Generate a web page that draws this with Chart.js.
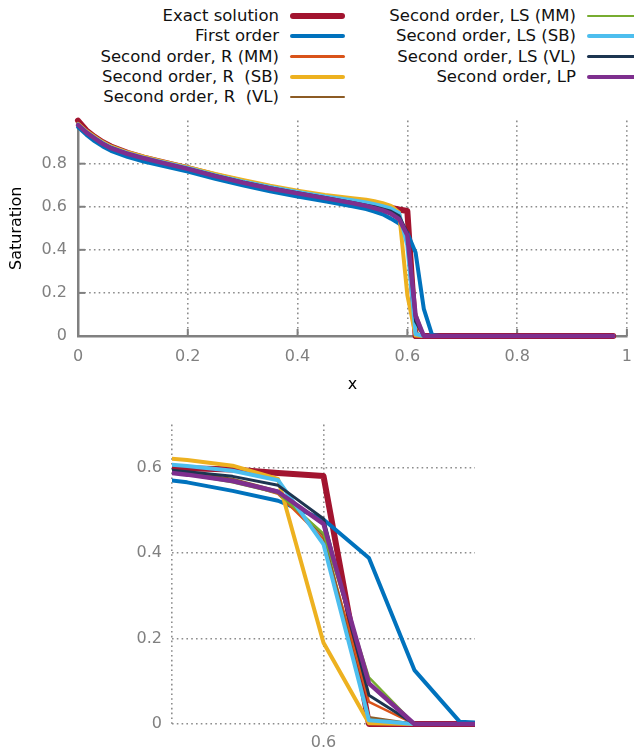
<!DOCTYPE html>
<html>
<head>
<meta charset="utf-8">
<script src="https://cdn.jsdelivr.net/npm/chart.js@4.4.0/dist/chart.umd.min.js"></script>
<style>
  body { margin: 0; width: 634px; height: 753px; overflow: hidden; background: #fff; position: relative; font-family: "DejaVu Sans", sans-serif; }
  #mainWrap { position: absolute; left: 0; top: 100px; }
  #zoomWrap { position: absolute; left: 0; top: 405px; }
  .legText { position: absolute; font-size: 16.5px; line-height: 20px; color: #111; white-space: pre; text-align: right; }
  .legLine { position: absolute; border-radius: 3px; }
</style>
</head>
<body>
<div id="legend"></div>
<div id="mainWrap"><canvas id="mainChart" width="643" height="300"></canvas></div>
<div id="zoomWrap"><canvas id="zoomChart" width="634" height="348"></canvas></div>
<script>
// grid points (coarser where the curves are smooth)
var xs = [0, 0.015, 0.03, 0.045, 0.06, 0.09, 0.12, 0.15, 0.2, 0.25, 0.3, 0.35, 0.4, 0.45, 0.5, 0.525, 0.54, 0.555, 0.57, 0.585, 0.6, 0.615, 0.63, 0.645, 0.66, 0.7, 0.8, 0.9, 0.975];

var exactSol = [1.0, 0.955, 0.925, 0.9, 0.88, 0.85, 0.828, 0.809, 0.779, 0.746, 0.716, 0.689, 0.666, 0.644, 0.622, 0.612, 0.605, 0.598, 0.595, 0.587, 0.58, 0, 0, 0, 0, 0, 0, 0, 0];
var firstOrder = [0.97, 0.935, 0.905, 0.88, 0.86, 0.832, 0.81, 0.792, 0.763, 0.73, 0.7, 0.672, 0.647, 0.625, 0.602, 0.589, 0.578, 0.565, 0.545, 0.522, 0.478, 0.388, 0.126, 0.005, 0, 0, 0, 0, 0];
var rMM = [0.98, 0.945, 0.918, 0.893, 0.873, 0.847, 0.826, 0.807, 0.777, 0.744, 0.714, 0.687, 0.664, 0.642, 0.619, 0.606, 0.597, 0.585, 0.57, 0.538, 0.433, 0.052, 0, 0, 0, 0, 0, 0, 0];
var rSB = [0.985, 0.952, 0.925, 0.9, 0.88, 0.853, 0.832, 0.813, 0.784, 0.752, 0.724, 0.698, 0.675, 0.655, 0.64, 0.633, 0.626, 0.617, 0.604, 0.573, 0.19, 0.002, 0, 0, 0, 0, 0, 0, 0];
var rVL = [0.981, 0.946, 0.919, 0.894, 0.874, 0.848, 0.827, 0.808, 0.778, 0.745, 0.715, 0.688, 0.665, 0.643, 0.62, 0.607, 0.599, 0.588, 0.573, 0.545, 0.441, 0.016, 0, 0, 0, 0, 0, 0, 0];
var lsMM = [0.979, 0.944, 0.917, 0.892, 0.872, 0.846, 0.825, 0.806, 0.776, 0.743, 0.713, 0.686, 0.663, 0.641, 0.618, 0.605, 0.596, 0.584, 0.565, 0.54, 0.445, 0.109, 0, 0, 0, 0, 0, 0, 0];
var lsSB = [0.982, 0.948, 0.921, 0.896, 0.876, 0.849, 0.828, 0.809, 0.78, 0.747, 0.718, 0.692, 0.669, 0.648, 0.63, 0.62, 0.612, 0.603, 0.592, 0.57, 0.42, 0.009, 0, 0, 0, 0, 0, 0, 0];
var lsVL = [0.981, 0.947, 0.92, 0.895, 0.875, 0.848, 0.827, 0.808, 0.778, 0.745, 0.715, 0.688, 0.665, 0.643, 0.62, 0.607, 0.6, 0.59, 0.579, 0.558, 0.48, 0.067, 0, 0, 0, 0, 0, 0, 0];
var lp = [0.98, 0.945, 0.918, 0.892, 0.872, 0.846, 0.825, 0.806, 0.776, 0.742, 0.712, 0.685, 0.662, 0.64, 0.617, 0.604, 0.594, 0.583, 0.568, 0.543, 0.468, 0.095, 0, 0, 0, 0, 0, 0, 0];

var seriesNames = ['Exact solution', 'First order', 'Second order, R (MM)', 'Second order, R  (SB)', 'Second order, R  (VL)',
                   'Second order, LS (MM)', 'Second order, LS (SB)', 'Second order, LS (VL)', 'Second order, LP'];
var seriesData = [exactSol, firstOrder, rMM, rSB, rVL, lsMM, lsSB, lsVL, lp];
var colors = ['#a2142f', '#0072bd', '#d95319', '#edb120', '#8c5b24', '#77ac30', '#4dbeee', '#1d3550', '#7e2f8e'];
var widths = [6, 4, 2.5, 4, 2.5, 2.5, 4, 3, 4.5];

var mainXTicks = [0, 0.2, 0.4, 0.6, 0.8, 1];
var mainYTicks = [0, 0.2, 0.4, 0.6, 0.8];

Chart.defaults.font.family = '"DejaVu Sans", sans-serif';
var gridGray = '#8c8c8c';
var axisGray = '#808080';

// legend, gnuplot style: text right-aligned then a line sample
var leg = document.getElementById('legend');
var rowY = [16, 36, 56.5, 77, 97];
for (var i = 0; i < seriesNames.length; i++) {
  var col = i < 5 ? 0 : 1;
  var row = col === 0 ? i : i - 5;
  var textRight = col === 0 ? 279 : 576;
  var t = document.createElement('div');
  t.className = 'legText';
  t.textContent = seriesNames[i];
  t.style.right = (634 - textRight) + 'px';
  t.style.top = (rowY[row] - 10) + 'px';
  leg.appendChild(t);
  var l = document.createElement('div');
  l.className = 'legLine';
  l.style.left = (textRight + 11) + 'px';
  l.style.width = '55px';
  l.style.height = widths[i] + 'px';
  l.style.top = (rowY[row] - widths[i] / 2) + 'px';
  l.style.background = colors[i];
  leg.appendChild(l);
}

function makeDatasets(clip) {
  return seriesData.map(function(arr, i) {
    return {
      label: seriesNames[i],
      data: xs.map(function(x, j) { return {x: x, y: arr[j]}; }),
      borderColor: colors[i],
      borderWidth: widths[i],
      pointRadius: 0,
      borderCapStyle: 'round',
      borderJoinStyle: 'round',
      tension: 0,
      order: seriesData.length - i,
      clip: clip
    };
  });
}

function fmt(v) { return String(Math.round(v * 100) / 100); }

// small inward tick marks like gnuplot
var inwardTicks = {
  id: 'inwardTicks',
  beforeDatasetsDraw: function(chart) {
    var ctx = chart.ctx, a = chart.chartArea;
    var sx = chart.scales.x, sy = chart.scales.y;
    ctx.save();
    ctx.strokeStyle = axisGray;
    ctx.lineWidth = 2;
    mainXTicks.forEach(function(v) {
      var px = sx.getPixelForValue(v);
      ctx.beginPath(); ctx.moveTo(px, a.bottom); ctx.lineTo(px, a.bottom - 7); ctx.stroke();
    });
    mainYTicks.forEach(function(v) {
      var py = sy.getPixelForValue(v);
      ctx.beginPath(); ctx.moveTo(a.left, py); ctx.lineTo(a.left + 7, py); ctx.stroke();
    });
    ctx.restore();
  }
};

new Chart(document.getElementById('mainChart'), {
  type: 'line',
  data: { datasets: makeDatasets(false) },
  plugins: [inwardTicks],
  options: {
    responsive: false,
    animation: false,
    layout: { padding: { top: 19, right: 8, left: 0, bottom: 0 } },
    plugins: { legend: { display: false }, tooltip: { enabled: false } },
    scales: {
      x: {
        type: 'linear', min: 0, max: 1,
        ticks: { stepSize: 0.2, color: axisGray, font: { size: 16 }, padding: 11, maxRotation: 0, callback: fmt },
        grid: { color: function(c) { return c.tick && c.tick.value > 0.01 ? gridGray : 'rgba(0,0,0,0)'; }, lineWidth: 1.6, drawTicks: false },
        border: { color: axisGray, width: 2.5, dash: [1.6, 3.2] },
        title: { display: true, text: 'x', color: '#000', font: { size: 16 }, padding: { top: 0, bottom: 6 } },
        afterFit: function(s) { s.height = 64; }
      },
      y: {
        type: 'linear', min: 0, max: 1,
        ticks: { stepSize: 0.2, color: axisGray, font: { size: 16 }, padding: 11,
                 callback: function(v) { return v > 0.99 ? '' : fmt(v); } },
        grid: { color: function(c) { return c.tick && c.tick.value > 0.01 && c.tick.value < 0.99 ? gridGray : 'rgba(0,0,0,0)'; }, lineWidth: 1.6, drawTicks: false },
        border: { color: axisGray, width: 2.5, dash: [1.6, 3.2] },
        title: { display: true, text: 'Saturation', color: '#000', font: { size: 16 }, padding: { top: 7, bottom: 0 } },
        afterFit: function(s) { s.width = 78; }
      }
    }
  }
});

// zoom around the front
new Chart(document.getElementById('zoomChart'), {
  type: 'line',
  data: { datasets: makeDatasets({ left: 0, right: 0, top: false, bottom: false }) },
  options: {
    responsive: false,
    animation: false,
    layout: { padding: { top: 12, right: 159, left: 0, bottom: 0 } },
    plugins: { legend: { display: false }, tooltip: { enabled: false } },
    scales: {
      x: {
        type: 'linear', min: 0.55, max: 0.65,
        ticks: { stepSize: 0.05, color: axisGray, font: { size: 16 }, padding: 9, maxRotation: 0,
                 callback: function(v) { return Math.abs(v - 0.6) < 1e-6 ? '0.6' : ''; } },
        grid: { color: function(c) { return c.tick && c.tick.value < 0.64 ? gridGray : 'rgba(0,0,0,0)'; }, lineWidth: 1.6, drawTicks: false },
        border: { display: false, dash: [1.6, 3.2] },
        afterFit: function(s) { s.height = 29; }
      },
      y: {
        type: 'linear', min: 0, max: 0.7,
        ticks: { stepSize: 0.2, includeBounds: false, color: axisGray, font: { size: 16 }, padding: 10, callback: fmt },
        grid: { color: gridGray, lineWidth: 1.6, drawTicks: false },
        border: { display: false, dash: [1.6, 3.2] },
        afterFit: function(s) { s.width = 172; }
      }
    }
  }
});
</script>
</body>
</html>
